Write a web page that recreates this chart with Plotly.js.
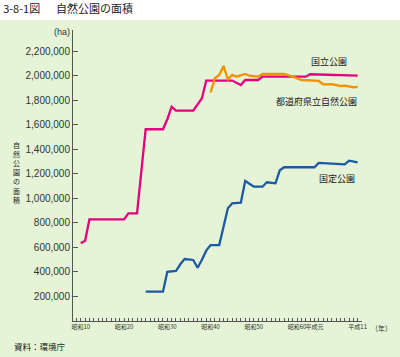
<!DOCTYPE html>
<html>
<head>
<meta charset="utf-8">
<script src="https://cdn.plot.ly/plotly-3.0.1.min.js"></script>
<style>html,body{margin:0;padding:0;background:#fff;}#chart{width:400px;height:357px;}</style>
</head>
<body>
<div id="chart"></div>
<script>
// 国立公園 (national parks), ha
const nationalYears = [1935,1936,1937,1945,1946,1948,1950,1954,1955,1956,1957,1961,1963,1964,1970,1972,1973,1976,1977,1987,1988,1999];
const nationalArea  = [634000,655000,830000,830000,879000,879000,1565000,1565000,1646000,1749000,1717000,1717000,1818000,1962000,1962000,1926000,1967000,1967000,1994000,1994000,2014000,2002000];

// 都道府県立自然公園 (prefectural natural parks), ha
const prefYears = [1965,1966,1967,1968,1969,1970,1971,1973,1974,1976,1977,1982,1984,1986,1990,1991,1993,1995,1996,1998,1999];
const prefArea  = [1865000,1981000,2008000,2082000,1973000,2008000,1994000,2016000,2002000,1994000,2016000,2016000,1994000,1967000,1959000,1932000,1934000,1918000,1921000,1908000,1910000];

// 国定公園 (quasi-national parks), ha
const quasiYears = [1950,1954,1955,1957,1958,1959,1961,1962,1963,1964,1965,1967,1969,1970,1972,1973,1975,1977,1978,1980,1981,1982,1989,1990,1992,1996,1997,1999];
const quasiArea  = [239000,239000,402000,408000,463000,506000,498000,435000,500000,574000,620000,620000,920000,961000,966000,1143000,1096000,1096000,1132000,1124000,1230000,1255000,1255000,1290000,1287000,1279000,1308000,1295000];

// x-axis tick labels (year -> label)
const tickYears  = [1935,1945,1955,1965,1975,1985,1989,1999];
const tickLabels = ['昭和10','昭和20','昭和30','昭和40','昭和50','昭和60','平成元','平成11'];
const yTickVals  = [200000,400000,600000,800000,1000000,1200000,1400000,1600000,1800000,2000000,2200000];

const allYears = [];
for (let y = 1934; y <= 2000; y++) allYears.push(y);
const allText = allYears.map(y => { const i = tickYears.indexOf(y); return i >= 0 ? tickLabels[i] : ''; });

const JP = '"Noto Sans CJK JP", "Noto Sans", sans-serif';
const BG = '#E5F3D6';

const traces = [
  {x: nationalYears, y: nationalArea, mode: 'lines', line: {color: '#E5007F', width: 2.3}, name: '国立公園'},
  {x: prefYears, y: prefArea, mode: 'lines', line: {color: '#F39200', width: 2.3}, name: '都道府県立自然公園'},
  {x: quasiYears, y: quasiArea, mode: 'lines', line: {color: '#1B5AA5', width: 2.3}, name: '国定公園'}
];

const layout = {
  width: 400, height: 357,
  margin: {l: 73, r: 38, t: 30, b: 36},
  paper_bgcolor: BG, plot_bgcolor: BG,
  showlegend: false,
  title: {text: '3-8-1図\u3000\u00a0\u00a0自然公園の面積', x: 0.008, xanchor: 'left', xref: 'container',
          y: 0.975, yanchor: 'middle', font: {family: JP, size: 11, color: '#222'}},
  xaxis: {
    range: [1933.2, 2000], showgrid: false, zeroline: false,
    showline: true, linecolor: '#555', linewidth: 1,
    tickmode: 'array', tickvals: allYears, ticktext: allText,
    ticks: 'inside', ticklen: 3, tickcolor: '#555', tickwidth: 1,
    tickfont: {family: JP, size: 6, color: '#333'}, tickangle: 0
  },
  yaxis: {
    range: [0, 2375000], showgrid: false, zeroline: false,
    showline: true, linecolor: '#555', linewidth: 1,
    tickmode: 'array', tickvals: yTickVals, tickformat: ',d',
    ticks: 'inside', ticklen: 5, tickcolor: '#555', tickwidth: 1,
    tickfont: {family: '"Liberation Sans", Arial, sans-serif', size: 10, color: '#333'}
  },
  shapes: [
    {type: 'rect', xref: 'paper', yref: 'paper', x0: -0.3, x1: 1.2, y0: 1.0344, y1: 1.2,
     fillcolor: '#ffffff', line: {width: 0}, layer: 'below'}
  ],
  annotations: [
    {text: '国立公園', x: 1992.4, y: 2122000, xref: 'x', yref: 'y', showarrow: false,
     font: {family: JP, size: 9, color: '#222'}},
    {text: '都道府県立自然公園', x: 1989.4, y: 1788000, xref: 'x', yref: 'y', showarrow: false,
     font: {family: JP, size: 9, color: '#222'}},
    {text: '国定公園', x: 1994.2, y: 1159000, xref: 'x', yref: 'y', showarrow: false,
     font: {family: JP, size: 9, color: '#222'}},
    {text: '自<br>然<br>公<br>園<br>の<br>面<br>積', xref: 'paper', yref: 'paper', x: -0.194, y: 0.512,
     xanchor: 'center', yanchor: 'middle', showarrow: false, font: {family: JP, size: 7, color: '#222'}},
    {text: '(ha)', xref: 'paper', yref: 'paper', x: -0.004, y: 0.993, xanchor: 'right', yanchor: 'middle',
     showarrow: false, font: {family: '"Liberation Sans", Arial, sans-serif', size: 9, color: '#333'}},
    {text: '（年）', xref: 'paper', yref: 'paper', x: 1.025, y: -0.023, xanchor: 'left', yanchor: 'middle',
     showarrow: false, font: {family: JP, size: 7, color: '#333'}},
    {text: '資料：環境庁', xref: 'paper', yref: 'paper', x: -0.211, y: -0.086, xanchor: 'left', yanchor: 'middle',
     showarrow: false, font: {family: JP, size: 8.5, color: '#222'}}
  ]
};

Plotly.newPlot('chart', traces, layout, {staticPlot: true, displayModeBar: false});
</script>
</body>
</html>
